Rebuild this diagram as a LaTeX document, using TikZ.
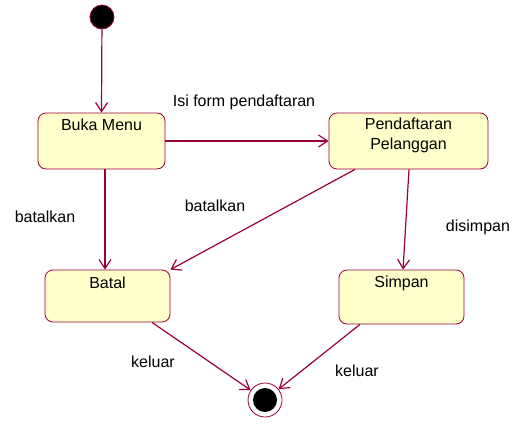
\documentclass[tikz,border=0pt]{standalone}
\usepackage{fontspec}
\setmainfont{Liberation Sans}
\usetikzlibrary{arrows.meta}
\definecolor{umlred}{HTML}{990033}
\definecolor{umlfill}{HTML}{FFFFCC}
\begin{document}
\begin{tikzpicture}[x=1pt,y=-1pt,
  every node/.style={font=\fontsize{16}{20}\selectfont},
  state/.style={draw=umlred, fill=umlfill, rounded corners=8pt, line width=0.8pt, inner sep=0pt},
  lbl/.style={inner sep=0pt},
  trans/.style={draw=umlred, line width=1.2pt, -{Straight Barb[length=9pt,width=12pt,line width=1.2pt]}}]
\useasboundingbox (0,0) rectangle (518,423);
% initial and final
\node[circle, fill=black, draw=umlred, line width=0.8pt, minimum size=24pt, inner sep=0pt] (init) at (102,17) {};
\node[circle, fill=white, draw=umlred, line width=0.8pt, minimum size=34pt, inner sep=0pt] (fin) at (265,400) {};
\node[circle, fill=black, minimum size=24pt, inner sep=0pt] (fininner) at (265,400) {};
% states
\node[state, minimum width=127pt, minimum height=56pt] (bm) at (101.5,141) {};
\node[lbl] (bmt) at (101.5,125) {Buka Menu};
\node[state, minimum width=159pt, minimum height=56pt] (pd) at (408.5,141) {};
\node[lbl, align=center] (pdt) at (408.5,135) {Pendaftaran\\Pelanggan};
\node[state, minimum width=125pt, minimum height=52pt] (bt) at (107.5,296) {};
\node[lbl] (btt) at (107.5,283) {Batal};
\node[state, minimum width=125pt, minimum height=54pt] (sp) at (401.5,297) {};
\node[lbl] (spt) at (401.5,283) {Simpan};
% transitions
\draw[trans] (init) -- (bm.north);
\draw[trans] (bm.east) -- (pd.west);
\draw[trans] ([xshift=3.5pt]bm.south) -- ([xshift=-2.5pt]bt.north);
\draw[trans] ([xshift=-53.5pt]pd.south) -- (bt.north east);
\draw[trans] ([xshift=0.5pt]pd.south) -- ([xshift=1.5pt]sp.north);
\draw[trans] ([xshift=44.5pt]bt.south) -- (fin);
\draw[trans] ([xshift=-41.5pt]sp.south) -- (fin);
% labels
\node[lbl] (l1) at (244,102) {Isi form pendaftaran};
\node[lbl] (l2) at (45,217) {batalkan};
\node[lbl] (l3) at (215,206) {batalkan};
\node[lbl] (l4) at (478,227) {disimpan};
\node[lbl] (l5) at (153,362) {keluar};
\node[lbl] (l6) at (357,371) {keluar};
\end{tikzpicture}
\end{document}
